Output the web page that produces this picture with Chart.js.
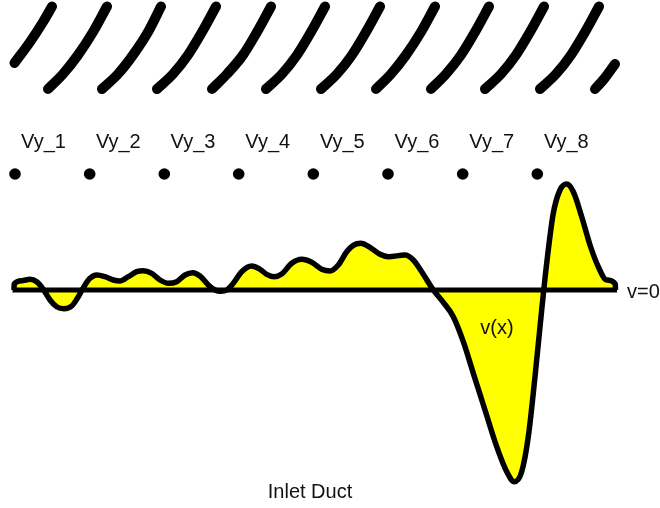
<!DOCTYPE html>
<html>
<head>
<meta charset="utf-8">
<title>Inlet Duct</title>
<script src="https://cdn.jsdelivr.net/npm/chart.js@4/dist/chart.umd.min.js"></script>
<style>
  html, body { margin: 0; padding: 0; background: #fff; }
  canvas { display: block; }
</style>
</head>
<body>
<canvas id="duct" width="660" height="508"></canvas>
<script>
// v(x) along the duct, v=0 is the heavy baseline
const profileX = [14, 14.2, 21.7, 30, 36.7, 43.3, 50, 56.7, 64, 71.7, 78.3, 85, 90, 96.7, 105, 113.3, 120, 128.3, 136.7, 143.3, 151.7, 160, 168.3, 176.7, 185, 192.7, 200, 208.3, 215, 220.7, 226.7, 233.3, 241.7, 251.7, 260, 266.7, 274, 281.7, 291.7, 301.7, 311.7, 321.7, 330, 338.3, 346.7, 353.3, 360.7, 370, 380, 388.3, 405, 413.3, 421.7, 433.3, 443.3, 453.3, 463.3, 473.3, 485, 496.7, 506.7, 514.3, 521.7, 528.3, 535, 541.7, 546.7, 553.3, 560, 566.7, 573.3, 581.7, 590, 598.3, 606.7, 615.3, 615.5];
const profileV = [0, 6, 9.3, 10.7, 8.3, 0.7, -10, -16.7, -18.7, -16, -6.7, 5, 11.7, 15, 13.3, 10, 9, 13.3, 18.3, 19.3, 16.7, 10, 6.7, 8.3, 15, 17.3, 14, 5, 0, -1.3, 0, 6.7, 18.3, 24, 20.7, 15.7, 13.3, 16, 26.7, 30.7, 27.7, 20.7, 19, 25, 38.3, 44.7, 46.7, 42.7, 35.7, 33.3, 35, 30, 18.3, 0, -12.3, -26.7, -51.7, -83.3, -120, -156.7, -181.7, -191.7, -181.7, -146.7, -86.7, -20, 26.7, 76.7, 100, 106, 98.3, 73.3, 45, 23.3, 10, 6, 0];
const baselineX = [12.5, 617];

// guide vanes, all long ones share the same heights
const vaneV = [201, 216, 235, 258, 283.5];
const vaneXs = [
  [48, 63, 78, 93, 107],
  [102, 118, 133, 148, 161],
  [157, 173, 188, 202, 216],
  [212, 227, 243, 257, 271],
  [266, 282, 297, 311, 325],
  [321, 337, 352, 366, 380],
  [376, 391, 406, 421, 435],
  [431, 446, 461, 475, 489],
  [485, 501, 516, 530, 544],
  [540, 556, 571, 585, 599]
];
const firstVaneX = [14.5, 30, 43, 52];
const firstVaneV = [227, 248, 268, 283.5];
const lastVaneX = [595, 604, 615];
const lastVaneV = [201, 211, 226];

// velocity probes
const probeNames = ['Vy_1', 'Vy_2', 'Vy_3', 'Vy_4', 'Vy_5', 'Vy_6', 'Vy_7', 'Vy_8'];
const probeX = [15, 89.7, 164.3, 238.7, 313.3, 388, 462.7, 537.3];
const probeV = 116;
const probeLabelX = [43.5, 118.3, 193, 267.7, 342.3, 417, 491.7, 566.3];
const probeLabelV = 148;

const noteTexts = ['v=0', 'v(x)', 'Inlet Duct'];
const noteX = [643.5, 497, 310];
const noteV = [-2, -38, -202];

const pairs = (xs, ys) => xs.map((x, i) => ({ x, y: Array.isArray(ys) ? ys[i] : ys }));

const vaneSet = (xs, ys) => ({
  data: pairs(xs, ys),
  showLine: true,
  borderColor: '#000',
  borderWidth: 10,
  borderCapStyle: 'round',
  borderJoinStyle: 'round',
  cubicInterpolationMode: 'monotone',
  pointRadius: 0,
  clip: false
});

const textPlugin = {
  id: 'ductText',
  afterDatasetsDraw(chart) {
    const { ctx, scales: { x, y } } = chart;
    ctx.save();
    ctx.fillStyle = '#111';
    ctx.font = '20px "Liberation Sans", Arial, sans-serif';
    ctx.textAlign = 'center';
    ctx.textBaseline = 'middle';
    probeNames.forEach((t, i) => ctx.fillText(t, x.getPixelForValue(probeLabelX[i]), y.getPixelForValue(probeLabelV)));
    noteTexts.forEach((t, i) => ctx.fillText(t, x.getPixelForValue(noteX[i]), y.getPixelForValue(noteV[i])));
    ctx.restore();
  }
};

new Chart(document.getElementById('duct').getContext('2d'), {
  type: 'scatter',
  data: {
    datasets: [
      {
        data: pairs(baselineX, [0, 0]),
        showLine: true,
        borderColor: '#000',
        borderWidth: 5,
        pointRadius: 0,
        clip: false
      },
      {
        data: pairs(profileX, profileV),
        showLine: true,
        borderColor: '#000',
        borderWidth: 5.5,
        borderJoinStyle: 'round',
        backgroundColor: '#ffff00',
        fill: { value: 0 },
        cubicInterpolationMode: 'monotone',
        pointRadius: 0,
        clip: false
      },
      {
        data: pairs(probeX, probeV),
        pointStyle: 'circle',
        pointRadius: 5.8,
        pointBorderWidth: 0,
        pointBackgroundColor: '#000',
        clip: false
      },
      vaneSet(firstVaneX, firstVaneV),
      ...vaneXs.map(xs => vaneSet(xs, vaneV)),
      vaneSet(lastVaneX, lastVaneV)
    ]
  },
  options: {
    responsive: false,
    animation: false,
    layout: { padding: 0, autoPadding: false },
    plugins: { legend: { display: false }, tooltip: { enabled: false } },
    scales: {
      x: { type: 'linear', display: false, min: 0, max: 660 },
      y: { type: 'linear', display: false, min: -218, max: 290 }
    }
  },
  plugins: [textPlugin]
});
</script>
</body>
</html>
